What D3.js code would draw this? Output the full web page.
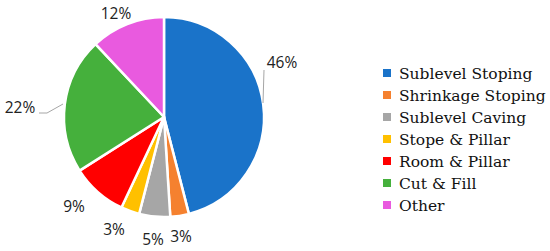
<!DOCTYPE html>
<html>
<head>
<meta charset="utf-8">
<script src="https://cdn.jsdelivr.net/npm/d3@7"></script>
<style>
  body { margin: 0; background: #fff; }
</style>
</head>
<body>
<svg id="pie" width="550" height="251"></svg>
<script>
const categories = ["Sublevel Stoping", "Shrinkage Stoping", "Sublevel Caving", "Stope & Pillar", "Room & Pillar", "Cut & Fill", "Other"];
const shares = [46, 3, 5, 3, 9, 22, 12];
const colors = ["#1A73C9", "#F5812F", "#A6A6A6", "#FFC000", "#FF0000", "#45B03C", "#E95ADF"];
// label anchor points, placed by hand like the original
const labelPos = [[282, 68], [181, 242], [153, 245], [114, 235], [74, 212], [20, 113], [116, 19]];

const svg = d3.select("#pie");
const cx = 164, cy = 117, radius = 100;

const pie = d3.pie().sort(null).value(d => d);
const arc = d3.arc().innerRadius(0).outerRadius(radius);
const arcs = pie(shares);

const g = svg.append("g").attr("transform", `translate(${cx},${cy})`);

g.selectAll("path")
  .data(arcs)
  .enter().append("path")
  .attr("d", arc)
  .attr("fill", (d, i) => colors[i])
  .attr("stroke", "#fff")
  .attr("stroke-width", 2.5)
  .attr("stroke-linejoin", "round");

// leader lines for 46% and 22%
svg.append("polyline")
  .attr("points", "263,103 264,70")
  .attr("fill", "none").attr("stroke", "#A6A6A6").attr("stroke-width", 1);
svg.append("polyline")
  .attr("points", "39,113 47,113 63,104")
  .attr("fill", "none").attr("stroke", "#A6A6A6").attr("stroke-width", 1);

svg.selectAll(".lbl")
  .data(arcs)
  .enter().append("text")
  .attr("class", "lbl")
  .attr("x", (d, i) => labelPos[i][0])
  .attr("y", (d, i) => labelPos[i][1])
  .attr("text-anchor", "middle")
  .style("font-family", "'Open Sans', sans-serif")
  .style("font-size", "15.5px")
  .style("fill", "#222")
  .text(d => d.data + "%");

// legend
const legend = svg.append("g").attr("transform", "translate(383,73)");
const rowH = 22;
legend.selectAll("rect")
  .data(categories)
  .enter().append("rect")
  .attr("x", 0)
  .attr("y", (d, i) => i * rowH - 4)
  .attr("width", 8).attr("height", 8)
  .attr("fill", (d, i) => colors[i]);
legend.selectAll("text")
  .data(categories)
  .enter().append("text")
  .attr("x", 16)
  .attr("y", (d, i) => i * rowH + 5.5)
  .style("font-family", "'DejaVu Serif', serif")
  .style("font-size", "15.5px")
  .style("fill", "#111")
  .text(d => d);
</script>
</body>
</html>
